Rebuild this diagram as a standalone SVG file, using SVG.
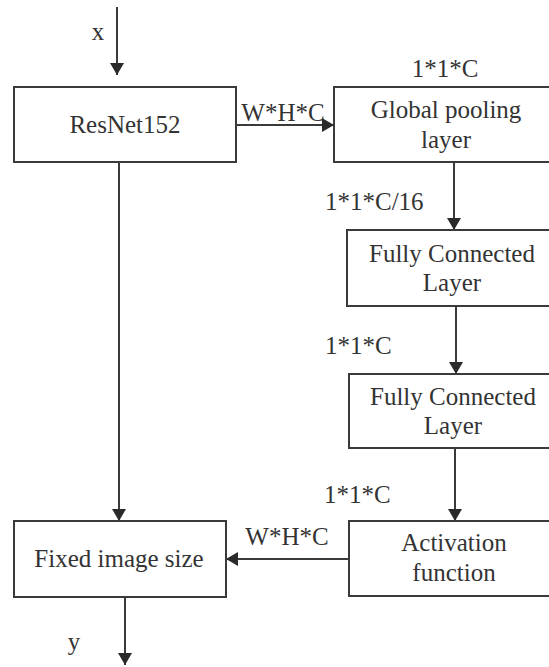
<svg xmlns="http://www.w3.org/2000/svg" width="549" height="667" viewBox="0 0 549 667">
  <style>
    .box { fill: #ffffff; stroke: #3a3a3a; stroke-width: 2; }
    .edge { fill: none; stroke: #3a3a3a; stroke-width: 2; }
    text { font-family: "Liberation Serif", "Times New Roman", serif; font-size: 25px; fill: #333333; }
    .c { text-anchor: middle; }
  </style>
  <defs>
    <marker id="arrow" viewBox="0 0 12 14" refX="12" refY="7" markerWidth="12" markerHeight="14" markerUnits="userSpaceOnUse" orient="auto">
      <path d="M0,0 L12,7 L0,14 Z" fill="#2a2a2a"/>
    </marker>
  </defs>

  <rect width="549" height="667" fill="#ffffff"/>

  <g id="connectors">
    <line class="edge" x1="117" y1="7" x2="117" y2="75" marker-end="url(#arrow)"/>
    <line class="edge" x1="236" y1="125" x2="334" y2="125" marker-end="url(#arrow)"/>
    <line class="edge" x1="454" y1="162" x2="454" y2="230" marker-end="url(#arrow)"/>
    <line class="edge" x1="456" y1="306" x2="456" y2="374" marker-end="url(#arrow)"/>
    <line class="edge" x1="455" y1="448" x2="455" y2="521" marker-end="url(#arrow)"/>
    <line class="edge" x1="349" y1="559" x2="226" y2="559" marker-end="url(#arrow)"/>
    <line class="edge" x1="119" y1="162" x2="119" y2="521" marker-end="url(#arrow)"/>
    <line class="edge" x1="125" y1="597" x2="125" y2="665" marker-end="url(#arrow)"/>

    <text x="98" y="40" class="c">x</text>
    <text x="283" y="121" class="c">W*H*C</text>
    <text x="445" y="77" class="c">1*1*C</text>
    <text x="325" y="210">1*1*C/16</text>
    <text x="325" y="354">1*1*C</text>
    <text x="324" y="503">1*1*C</text>
    <text x="287" y="545" class="c">W*H*C</text>
    <text x="74" y="650" class="c">y</text>
  </g>

  <g id="resnet">
    <rect class="box" x="14" y="87" width="222" height="75"/>
    <text x="125" y="133" class="c">ResNet152</text>
  </g>

  <g id="global-pooling">
    <rect class="box" x="334" y="87" width="240" height="75"/>
    <text x="446" y="118" class="c">Global pooling</text>
    <text x="446" y="148" class="c">layer</text>
  </g>

  <g id="fc1">
    <rect class="box" x="347" y="230" width="230" height="76"/>
    <text x="452" y="262" class="c">Fully Connected</text>
    <text x="452" y="291" class="c">Layer</text>
  </g>

  <g id="fc2">
    <rect class="box" x="349" y="374" width="230" height="74"/>
    <text x="453" y="405" class="c">Fully Connected</text>
    <text x="453" y="434" class="c">Layer</text>
  </g>

  <g id="activation">
    <rect class="box" x="349" y="521" width="230" height="75"/>
    <text x="454" y="551" class="c">Activation</text>
    <text x="454" y="581" class="c">function</text>
  </g>

  <g id="fixed-size">
    <rect class="box" x="14" y="521" width="212" height="76"/>
    <text x="119" y="567" class="c">Fixed image size</text>
  </g>
</svg>
